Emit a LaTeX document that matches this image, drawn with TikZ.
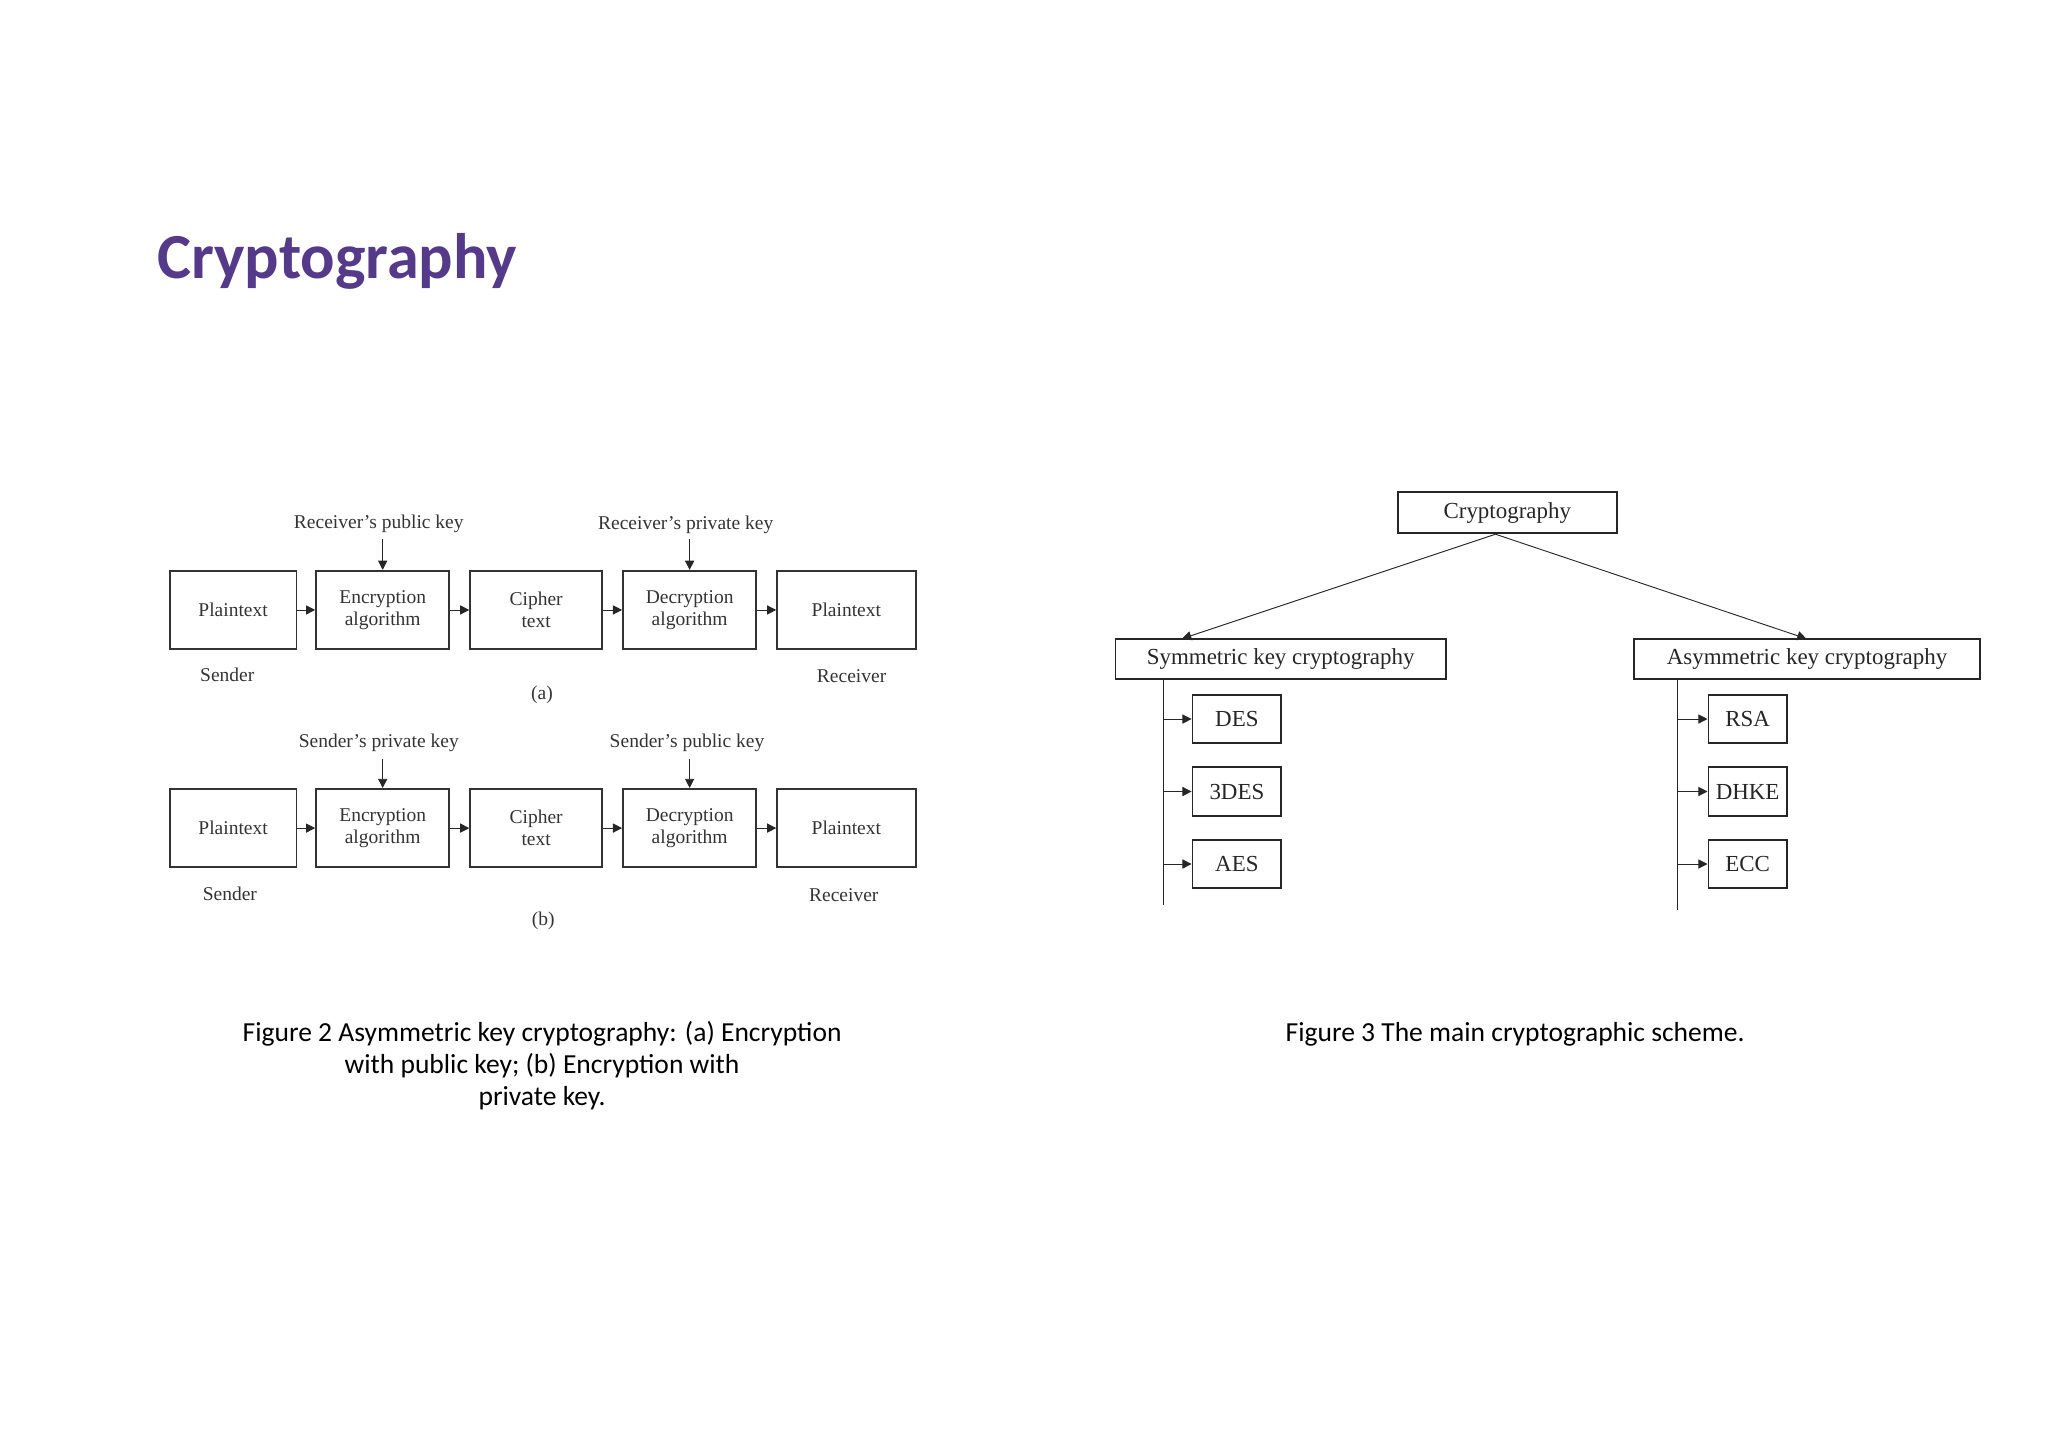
\documentclass[tikz,border=0pt]{standalone}
\usepackage{fontspec}
\setmainfont{Liberation Serif}
\newfontfamily\calfont{Carlito}
\usetikzlibrary{arrows.meta}
\definecolor{ttl}{HTML}{553A8A}
\begin{document}
\begin{tikzpicture}[x=0.02cm,y=-0.02cm,
 bx/.style={draw,thick,black!80,text=black!80,align=center,inner sep=0pt,font=\fontsize{8.5}{9.5}\selectfont},
 lb/.style={text=black!80,font=\fontsize{8.5}{9.5}\selectfont,inner sep=0pt},
 ar/.style={-{Triangle[length=4pt,width=4pt]},black!85},
 tb/.style={draw,thick,black!85,text=black!85,inner sep=0pt,font=\fontsize{10}{12}\selectfont},
 captext/.style={font=\calfont\fontsize{12}{15}\selectfont,inner sep=0pt,align=center}]
\useasboundingbox (0,0) rectangle (1568,1108);
\node[anchor=west,font=\calfont\bfseries\fontsize{28}{32}\selectfont,text=ttl,inner sep=0pt] (title) at (120,200) {Cryptography};
% Figure 2
\foreach \r/\yc in {a/467,b/634}{
 \node[bx,minimum width=1.94cm,minimum height=1.2cm] (\r1) at (178.5,\yc) {Plaintext};
 \node[bx,minimum width=2.04cm,minimum height=1.2cm] (\r2) at (293,\yc) {Encryption\\algorithm};
 \node[bx,minimum width=2.02cm,minimum height=1.2cm] (\r3) at (410.5,\yc) {Cipher\\text};
 \node[bx,minimum width=2.04cm,minimum height=1.2cm] (\r4) at (528,\yc) {Decryption\\algorithm};
 \node[bx,minimum width=2.12cm,minimum height=1.2cm] (\r5) at (648,\yc) {Plaintext};
 \draw[ar] (\r1) -- (\r2); \draw[ar] (\r2) -- (\r3); \draw[ar] (\r3) -- (\r4); \draw[ar] (\r4) -- (\r5);
}
\node[lb] (ka1) at (290,401) {Receiver’s public key};
\node[lb] (ka2) at (525,402) {Receiver’s private key};
\coordinate (ca1) at (293,413); \coordinate (ca2) at (528,413);
\draw[ar] (ca1) -- (a2.north); \draw[ar] (ca2) -- (a4.north);
\node[lb] (sa) at (174,517) {Sender};
\node[lb] (ra) at (652,518) {Receiver};
\node[lb] (pa) at (415,532) {(a)};
\node[lb] (kb1) at (290,569) {Sender’s private key};
\node[lb] (kb2) at (526,569) {Sender’s public key};
\coordinate (cb1) at (293,581); \coordinate (cb2) at (528,581);
\draw[ar] (cb1) -- (b2.north); \draw[ar] (cb2) -- (b4.north);
\node[lb] (sb) at (176,684) {Sender};
\node[lb] (rb) at (646,685) {Receiver};
\node[lb] (pb) at (416,705) {(b)};
\node[captext] (c2) at (415,816) {Figure 2 Asymmetric key cryptography: (a) Encryption\\[-1pt]with public key; (b) Encryption with\\[-1pt]private key.};
% Figure 3
\node[tb,minimum width=3.36cm,minimum height=0.62cm] (cr) at (1154,392.5) {Cryptography};
\node[tb,minimum width=5.06cm,minimum height=0.62cm] (sy) at (980.5,504.5) {Symmetric key cryptography};
\node[tb,minimum width=5.3cm,minimum height=0.62cm] (as) at (1383.5,504.5) {Asymmetric key cryptography};
\coordinate (cb) at (1145,409);
\coordinate (sye) at (905,489); \coordinate (ase) at (1383,489);
\draw[ar] (cb) -- (sye);
\draw[ar] (cb) -- (ase);
\coordinate (st) at (891,520); \coordinate (sbm) at (891,693);
\coordinate (at) at (1284,520); \coordinate (abm) at (1284,697);
\draw[black!85] (st) -- (sbm); \draw[black!85] (at) -- (abm);
\foreach \n/\t/\y in {d1/DES/550.5,d2/3DES/606,d3/AES/661.5}{
 \node[tb,minimum width=1.36cm,minimum height=0.74cm] (\n) at (947,\y) {\t};
 \draw[ar] (891,\y) -- (\n.west);}
\foreach \n/\t/\y in {e1/RSA/550.5,e2/DHKE/606,e3/ECC/661.5}{
 \node[tb,minimum width=1.2cm,minimum height=0.74cm] (\n) at (1338,\y) {\t};
 \draw[ar] (1284,\y) -- (\n.west);}
\node[captext] (c3) at (1160,792) {Figure 3 The main cryptographic scheme.};
\end{tikzpicture}
\end{document}
